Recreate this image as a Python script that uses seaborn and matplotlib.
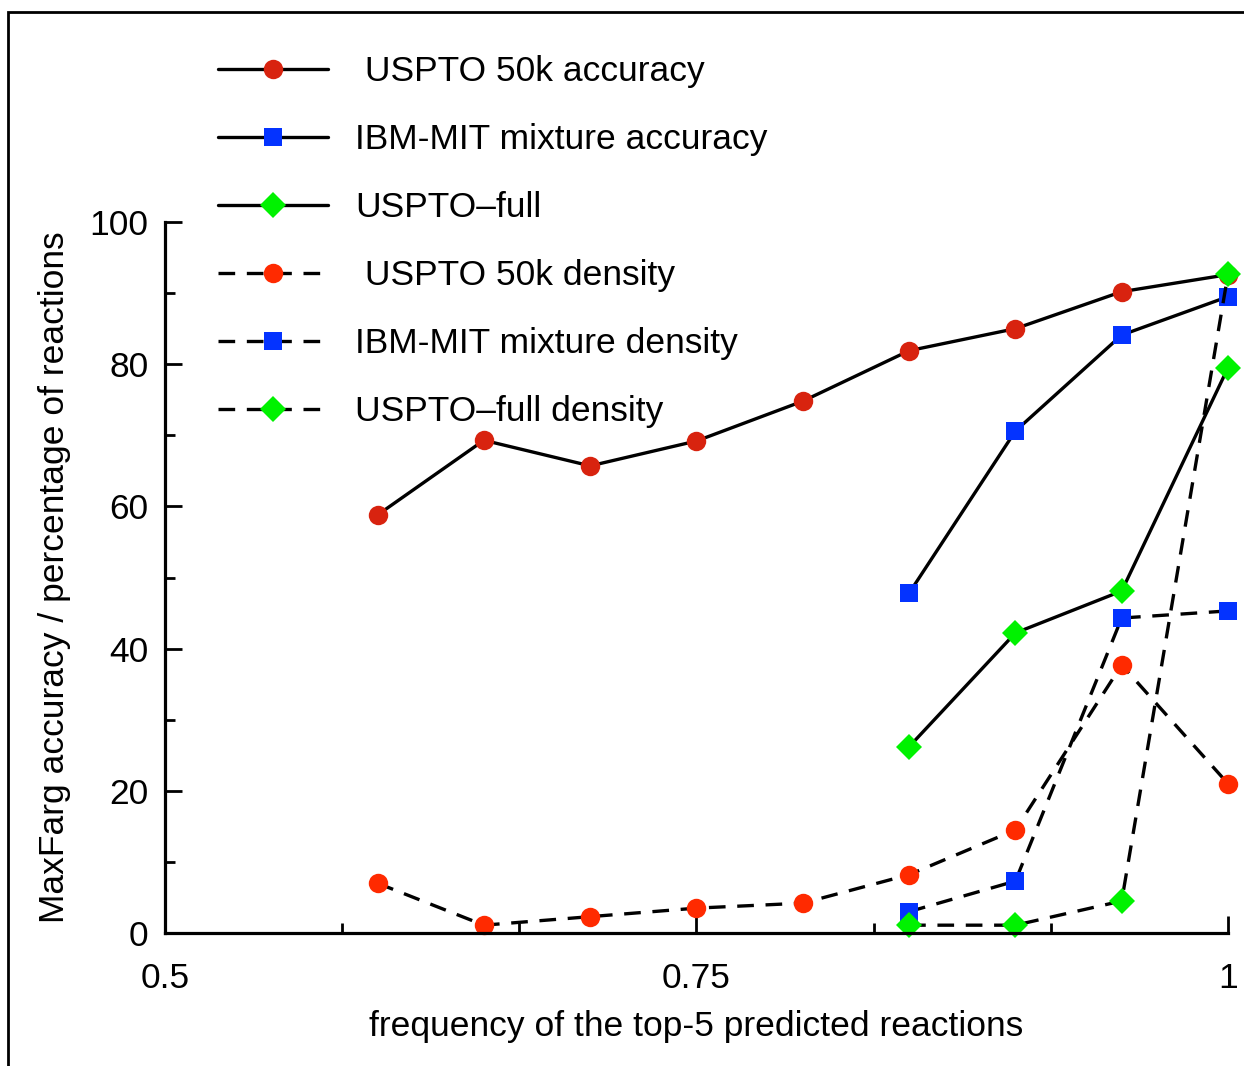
import numpy as np
import pandas as pd
import seaborn as sns
import matplotlib.pyplot as plt
from matplotlib.patches import Rectangle
from matplotlib.ticker import MultipleLocator

# data
freq_50k = [0.60, 0.65, 0.70, 0.75, 0.80, 0.85, 0.90, 0.95, 1.00]
freq_big = [0.85, 0.90, 0.95, 1.00]

acc_50k = [58.8, 69.3, 65.7, 69.2, 74.8, 81.9, 85.0, 90.2, 92.6]
acc_ibm = [47.8, 70.6, 84.1, 89.5]
acc_full = [26.2, 42.2, 48.1, 79.5]

dens_50k = [7.0, 1.1, 2.3, 3.5, 4.2, 8.2, 14.5, 37.7, 21.0]
dens_ibm = [3.0, 7.3, 44.3, 45.3]
dens_full = [1.1, 1.1, 4.5, 92.7]

labels = [" USPTO 50k accuracy", "IBM-MIT mixture accuracy", "USPTO\u2013full",
          " USPTO 50k density", "IBM-MIT mixture density", "USPTO\u2013full density"]

sns.set_style("ticks", {"text.color": "black", "axes.labelcolor": "black",
                        "xtick.color": "black", "ytick.color": "black",
                        "axes.edgecolor": "black"})
plt.rcParams["font.family"] = ["Liberation Sans", "DejaVu Sans"]

FS = 25.5

fig = plt.figure(figsize=(12.44, 10.66), dpi=100)
ax = fig.add_axes([165 / 1244, 133 / 1066, 1063 / 1244, 711 / 1066])

series = [
    (freq_50k, acc_50k, "o", "#d8230f", 14, "-"),
    (freq_big, acc_ibm, "s", "#0433ff", 12.5, "-"),
    (freq_big, acc_full, "D", "#00f200", 13, "-"),
    (freq_50k, dens_50k, "o", "#ff2a00", 14, "--"),
    (freq_big, dens_ibm, "s", "#0433ff", 12.5, "--"),
    (freq_big, dens_full, "D", "#00f200", 13, "--"),
]

handles = []
for (x, y, mk, col, ms, ls), lab in zip(series, labels):
    df = pd.DataFrame({"x": x, "y": y})
    sns.lineplot(data=df, x="x", y="y", ax=ax, color="black", linewidth=2.4,
                 linestyle=ls, marker=mk, markersize=ms, markerfacecolor=col,
                 markeredgecolor=col, markeredgewidth=0, clip_on=False, label=lab)
    line = ax.get_lines()[-1]
    if ls == "--":
        line.set_dashes((5, 3.5))
    handles.append(line)

ax.set_xlim(0.5, 1.0)
ax.set_ylim(0, 100)
ax.set_xticks([0.5, 0.75, 1.0])
ax.set_xticklabels(["0.5", "0.75", "1"])
ax.xaxis.set_minor_locator(MultipleLocator(1 / 12))
ax.yaxis.set_major_locator(MultipleLocator(20))
ax.yaxis.set_minor_locator(MultipleLocator(10))

sns.despine(ax=ax)
for s in ["left", "bottom"]:
    ax.spines[s].set_linewidth(2.3)

ax.tick_params(which="major", direction="in", length=12.5, width=2, labelsize=FS)
ax.tick_params(which="minor", direction="in", length=7, width=2)
ax.tick_params(axis="x", which="major", pad=21)
ax.tick_params(axis="y", which="major", pad=12)

ax.set_xlabel("frequency of the top-5 predicted reactions", fontsize=FS, labelpad=11)
ax.set_ylabel("MaxFarg accuracy / percentage of reactions", fontsize=FS, labelpad=13)

ax.legend(handles=handles, labels=labels, loc="upper left",
          bbox_to_anchor=(39 / 1063, (1066 - 41 - 133) / 711),
          frameon=False, fontsize=FS, handlelength=3.1, handletextpad=0.76,
          labelspacing=0.99, borderaxespad=0)

fig.patches.append(Rectangle((8 / 1244, -0.1), 1.2, (1066 - 12) / 1066 + 0.1,
                             transform=fig.transFigure, fill=False,
                             edgecolor="black", linewidth=2))

fig.savefig("out.png", dpi=100)
